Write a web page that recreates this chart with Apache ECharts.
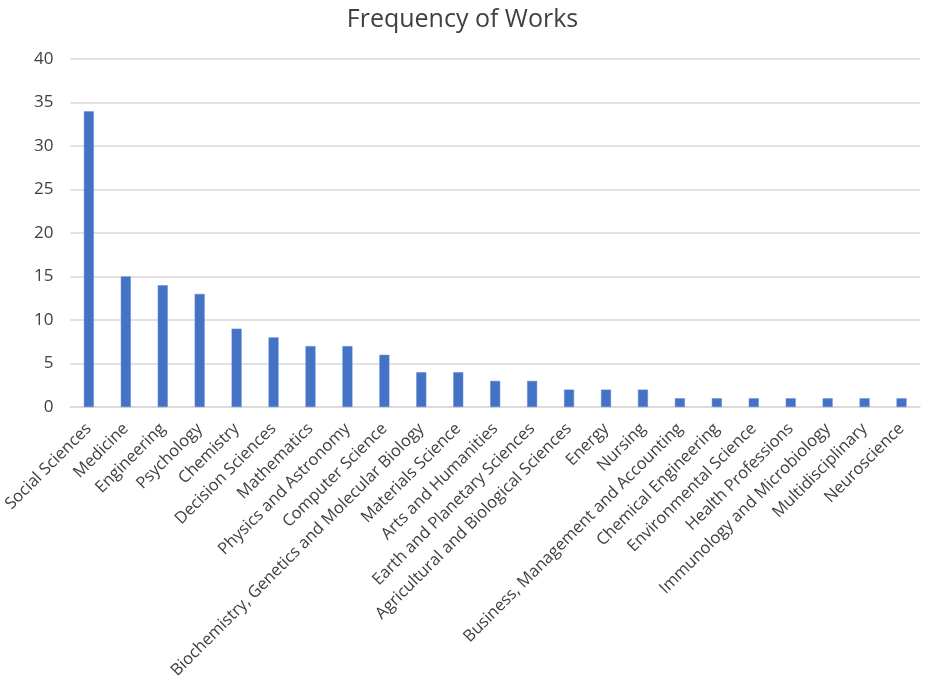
<!DOCTYPE html>
<html>
<head>
<meta charset="utf-8">
<script src="https://cdn.jsdelivr.net/npm/echarts@6/dist/echarts.min.js"></script>
<style>
  html, body { margin: 0; padding: 0; background: #fff; }
  #chart { width: 925px; height: 686px; }
</style>
</head>
<body>
<div id="chart"></div>
<script>
const categories = [
  'Social Sciences', 'Medicine', 'Engineering', 'Psychology', 'Chemistry',
  'Decision Sciences', 'Mathematics', 'Physics and Astronomy', 'Computer Science',
  'Biochemistry, Genetics and Molecular Biology', 'Materials Science',
  'Arts and Humanities', 'Earth and Planetary Sciences',
  'Agricultural and Biological Sciences', 'Energy', 'Nursing',
  'Business, Management and Accounting', 'Chemical Engineering',
  'Environmental Science', 'Health Professions', 'Immunology and Microbiology',
  'Multidisciplinary', 'Neuroscience'
];
const works = [34, 15, 14, 13, 9, 8, 7, 7, 6, 4, 4, 3, 3, 2, 2, 2, 1, 1, 1, 1, 1, 1, 1];

const chart = echarts.init(document.getElementById('chart'));
const font = 'Open Sans, Noto Sans, sans-serif';

chart.setOption({
  animation: false,
  title: {
    text: 'Frequency of Works',
    left: 'center',
    top: 2,
    textStyle: { fontFamily: font, fontSize: 25, fontWeight: 'normal', color: '#404040' }
  },
  grid: { left: 69, right: 5, top: 59, bottom: 279 },
  xAxis: {
    type: 'category',
    data: categories,
    axisLine: { lineStyle: { color: '#d9d9d9', width: 1.5 } },
    axisTick: { show: false },
    axisLabel: {
      interval: 0,
      rotate: 45,
      margin: 19,
      fontFamily: font,
      fontSize: 16.5,
      color: '#404040'
    }
  },
  yAxis: {
    type: 'value',
    min: 0,
    max: 40,
    interval: 5,
    axisLine: { show: false },
    axisTick: { show: false },
    splitLine: { lineStyle: { color: '#d9d9d9', width: 1.5 } },
    axisLabel: { margin: 17, fontFamily: font, fontSize: 17, color: '#404040' }
  },
  series: [{
    type: 'bar',
    data: works,
    barWidth: 10,
    itemStyle: { color: '#4472c4', borderColor: '#5b8ad8', borderWidth: 0.5 }
  }]
});
</script>
</body>
</html>
